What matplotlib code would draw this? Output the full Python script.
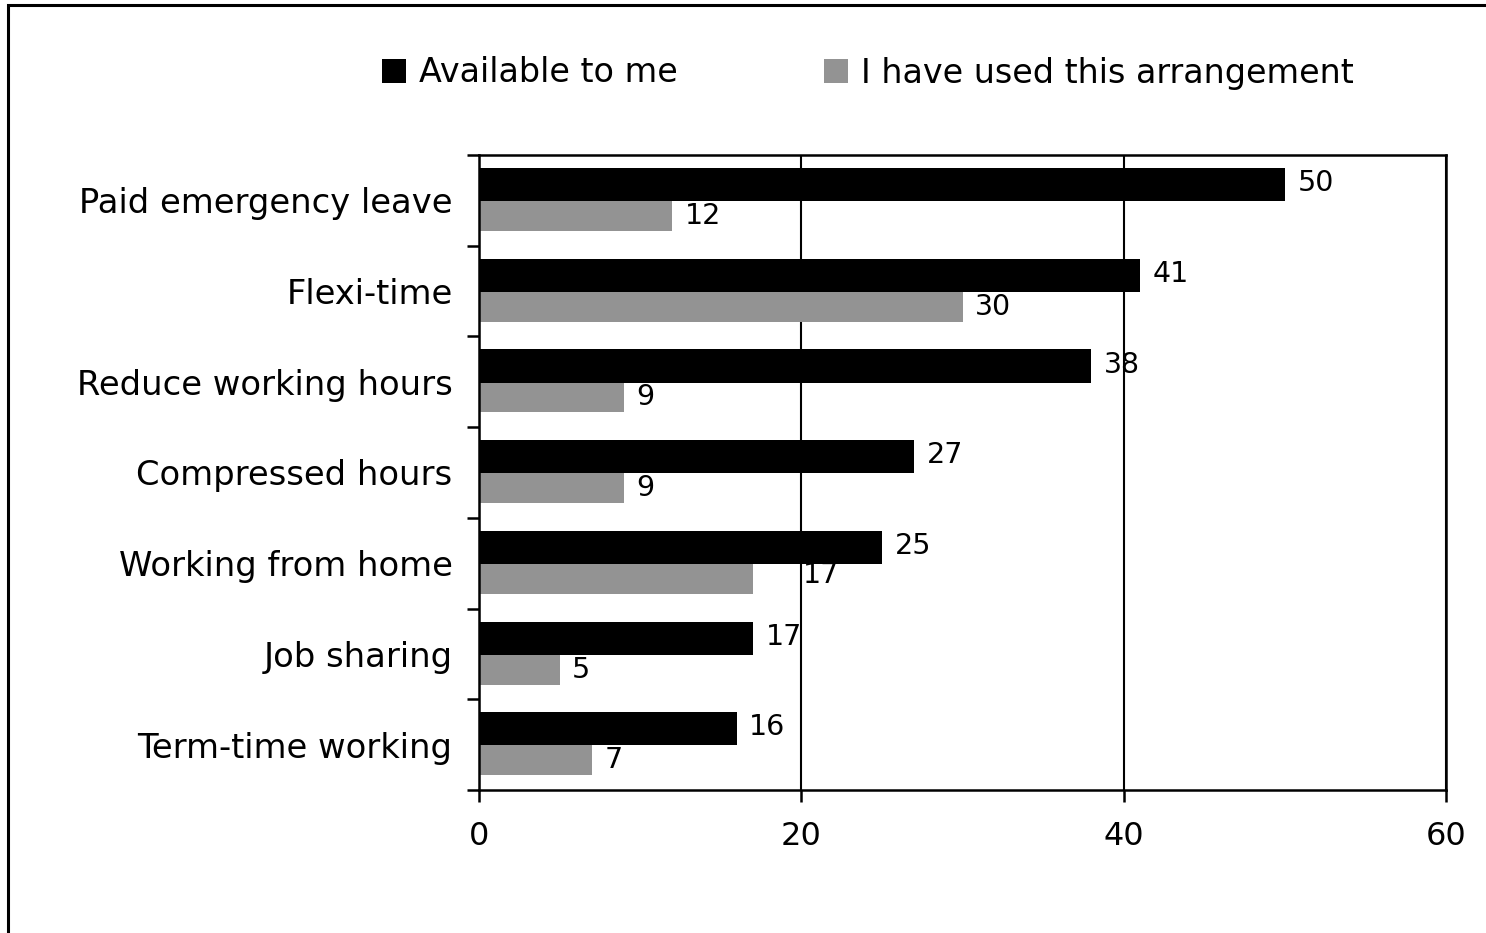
import matplotlib
matplotlib.use("Agg")
import matplotlib.pyplot as plt
from matplotlib.patches import Rectangle, Patch
import numpy as np

plt.rcParams['font.family'] = ['DejaVu Sans']

categories = ["Paid emergency leave", "Flexi-time", "Reduce working hours",
              "Compressed hours", "Working from home", "Job sharing",
              "Term-time working"]
available = [50, 41, 38, 27, 25, 17, 16]
used = [12, 30, 9, 9, 17, 5, 7]
x_ticks = [0, 20, 40, 60]

BLACK = "#000000"
GREY = "#939393"

fig = plt.figure(figsize=(14.86, 9.33), dpi=100)
ax = fig.add_axes([479 / 1486, 1 - 790 / 933, (1446 - 479) / 1486, (790 - 155) / 933])

ind = np.arange(len(categories))
bars_a = ax.barh(ind - 0.174, available, height=0.364, color=BLACK, zorder=4,
                 label="Available to me")
bars_u = ax.barh(ind + 0.173, used, height=0.33, color=GREY, zorder=2,
                 label="I have used this arrangement")

# value labels just past the end of each bar
for rect, v in zip(bars_a, available):
    ax.annotate(str(v), xy=(rect.get_width(), rect.get_y() + rect.get_height() / 2),
                xytext=(9, 1), textcoords="offset points", ha="left", va="center",
                fontsize=20.5, zorder=5)
# the "Working from home" label sits further right, half under the black bar
nudge = {4: (36, 3)}
for i, (rect, v) in enumerate(zip(bars_u, used)):
    ax.annotate(str(v), xy=(rect.get_width(), rect.get_y() + rect.get_height() / 2),
                xytext=nudge.get(i, (9, 0)), textcoords="offset points",
                ha="left", va="center", fontsize=20.5, zorder=3)

ax.set_xlim(0, 60)
ax.set_ylim(len(categories) - 0.5, -0.5)
ax.set_xticks(x_ticks)
ax.set_xticklabels([str(t) for t in x_ticks], fontsize=23)
ax.set_yticks(ind)
ax.set_yticklabels(categories, fontsize=24.3)
ax.set_yticks(np.arange(len(categories) + 1) - 0.5, minor=True)
ax.tick_params(axis="y", which="major", length=0, pad=19)
ax.tick_params(axis="y", which="minor", length=8.5, width=1.8, direction="out")
ax.tick_params(axis="x", length=8.5, width=1.8, direction="out", pad=14)

ax.grid(axis="x", color="black", linewidth=1.5)
ax.set_axisbelow(True)
for s in ax.spines.values():
    s.set_linewidth(1.8)

handles = [Patch(facecolor=BLACK), Patch(facecolor=GREY)]
fig.legend(handles, ["Available to me", "I have used this arrangement"],
           loc="center", bbox_to_anchor=(868 / 1486, 1 - 73 / 933), ncol=2,
           frameon=False, fontsize=24, handlelength=0.7, handleheight=0.7,
           handletextpad=0.4, columnspacing=4.4)

# outer chart border (left and top edges)
fig.patches.append(Rectangle((8 / 1486, -0.2), 2.0, 1.2 - 5 / 933,
                             transform=fig.transFigure, fill=False,
                             edgecolor="black", linewidth=2.2, clip_on=False))

fig.savefig("out.png", dpi=100)
